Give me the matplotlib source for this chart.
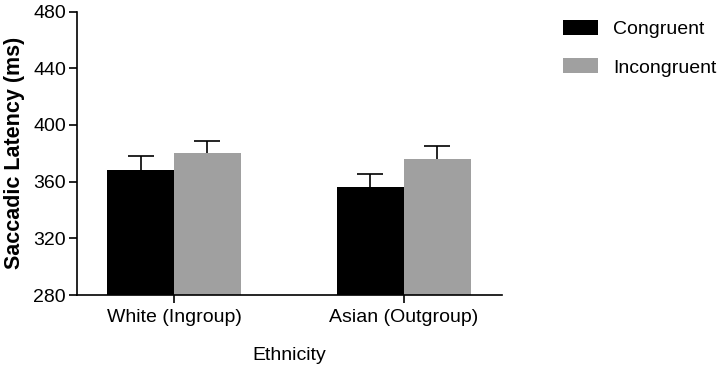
import numpy as np
import matplotlib.pyplot as plt

plt.rcParams['font.family'] = ['Liberation Sans', 'DejaVu Sans']

groups = ['White (Ingroup)', 'Asian (Outgroup)']
conditions = ['Congruent', 'Incongruent']
congruent = [368.3, 356.3]
incongruent = [380.1, 376.3]
congruent_err = [9.7, 9.0]
incongruent_err = [8.7, 9.0]
yticks = [280, 320, 360, 400, 440, 480]

colors = ['#000000', '#a0a0a0']

fig = plt.figure(figsize=(7.23, 3.69), dpi=100)
ax = fig.add_axes([0.1065, 0.2005, 0.5875, 0.768])

x = np.arange(len(groups))
w = 0.291
series = [(congruent, congruent_err), (incongruent, incongruent_err)]
for i, (vals, errs) in enumerate(series):
    pos = x + (i - 0.5) * w
    ax.bar(pos, np.array(vals) - 280, w, bottom=280, color=colors[i],
           label=conditions[i], edgecolor='none', zorder=2)
    eb = ax.errorbar(pos, vals, yerr=[np.zeros(len(errs)), errs], fmt='none',
                     ecolor='black', elinewidth=1.2, capsize=9.7, capthick=1.2, zorder=1)
    eb[1][0].set_visible(False)  # hide lower cap

ax.set_xlim(-0.422, 1.426)
ax.set_ylim(280, 480)
ax.set_yticks(yticks)
ax.set_xticks(x)
ax.set_xticklabels(groups)
ax.spines['top'].set_visible(False)
ax.spines['right'].set_visible(False)
for s in ['left', 'bottom']:
    ax.spines[s].set_linewidth(1.2)
ax.tick_params(axis='both', labelsize=14, width=1.2, length=6, direction='out')
ax.tick_params(axis='x', pad=4)
ax.tick_params(axis='y', pad=2)
ax.set_ylabel('Saccadic Latency (ms)', fontsize=15.5, fontweight='bold', labelpad=6)
ax.set_xlabel('Ethnicity', fontsize=14, labelpad=15)

fig.legend(loc='upper left', bbox_to_anchor=(563 / 723, 1 - 20 / 369), frameon=False,
           fontsize=14, handlelength=1.8, handleheight=0.78, handletextpad=0.78,
           labelspacing=1.05, borderpad=0, borderaxespad=0)

fig.savefig('out.png', dpi=100)
